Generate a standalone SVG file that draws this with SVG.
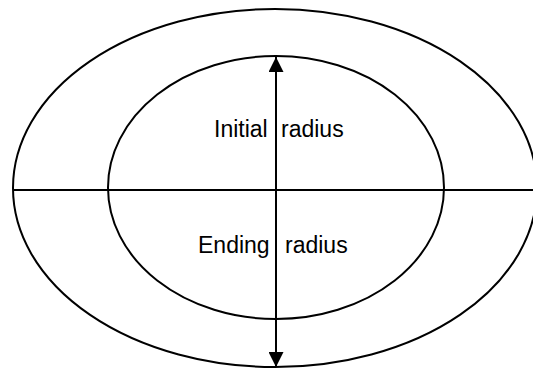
<svg xmlns="http://www.w3.org/2000/svg" width="533" height="369" viewBox="0 0 533 369">
<style>
.s{fill:none;stroke:#000;stroke-width:2}
.t{font-family:"Liberation Sans",Arial,sans-serif;font-size:23px;fill:#000}
</style>
<defs>
<marker id="ah" viewBox="0 0 10 10" refX="10" refY="5" markerWidth="15" markerHeight="15" markerUnits="userSpaceOnUse" orient="auto-start-reverse">
<path d="M0,0 L10,5 L0,10 z" fill="#000"/>
</marker>
</defs>
<g id="outer"><ellipse class="s" cx="275" cy="188" rx="262" ry="179"/></g>
<g id="inner"><ellipse class="s" cx="276" cy="187.5" rx="168" ry="131.5"/></g>
<g id="connectors">
<line class="s" x1="13" y1="190" x2="533" y2="190"/>
<line class="s" x1="276" y1="57" x2="276" y2="367" marker-start="url(#ah)" marker-end="url(#ah)"/>
</g>
<g id="labels">
<text class="t" x="214" y="137">Initial</text>
<text class="t" x="281" y="137">radius</text>
<text class="t" x="198" y="253">Ending</text>
<text class="t" x="285" y="253">radius</text>
</g>
</svg>
